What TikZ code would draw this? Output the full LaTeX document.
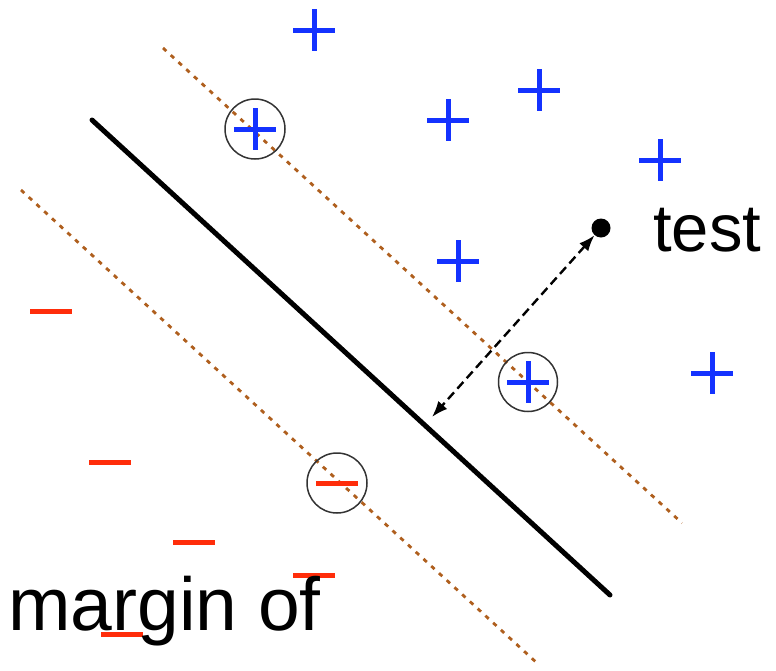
\documentclass[tikz,border=0pt]{standalone}
\usepackage{fontspec}
\setmainfont{Liberation Sans}
\usetikzlibrary{arrows.meta,positioning}
\definecolor{posblue}{RGB}{20,50,255}
\definecolor{negred}{RGB}{255,45,10}
\definecolor{marginbrown}{RGB}{175,95,30}
\tikzset{
  plusmark/.style={posblue,line width=5pt},
  minusmark/.style={negred,line width=5pt},
  marginline/.style={marginbrown,line width=2.8pt,dash pattern=on 4.5pt off 6pt},
  ring/.style={black!80,line width=1.5pt},
  bigtext/.style={inner sep=0pt,font=\fontsize{75}{80}\selectfont}
}
\begin{document}
\begin{tikzpicture}[x=1pt,y=-1pt]
  \useasboundingbox (0,0) rectangle (776,670);
  % separating line and the two margins
  \draw[black,line width=5pt,line cap=round] (92,120) -- (610,595);
  \draw[marginline] (163,48) -- (682,523);
  \draw[marginline] (21,190) -- (537,663);
  % positive examples
  \foreach \x/\y in {314/30,448/120,539/90,660/160,458/261,712/373,255/129,528/382}
    \draw[plusmark] ({\x-21},\y) -- ({\x+21},\y) (\x,{\y-21}) -- (\x,{\y+21});
  % negative examples
  \foreach \x/\y in {51/311,110/462,194/542,314/575,122/634,337/483}
    \draw[minusmark] ({\x-21},\y) -- ({\x+21},\y);
  % support vectors
  \draw[ring] (255,129) circle (30pt);
  \draw[ring] (528,382) circle (29.5pt);
  \draw[ring] (337,483) circle (30pt);
  % test point and its distance to the line
  \node[circle,fill=black,inner sep=0pt,minimum size=19pt] (test) at (601,228) {};
  \node[bigtext,font=\fontsize{67}{72}\selectfont,anchor=base west] (testlabel) at (653,251) {test};
  \coordinate (foot) at (432,417);
  \draw[{Latex[length=16pt,width=12pt]}-{Latex[length=16pt,width=12pt]},line width=2.4pt,dash pattern=on 9pt off 5pt] (test) -- (foot);
  \node[bigtext,anchor=base west] (marginlabel) at (8,630) {margin of};
\end{tikzpicture}
\end{document}
